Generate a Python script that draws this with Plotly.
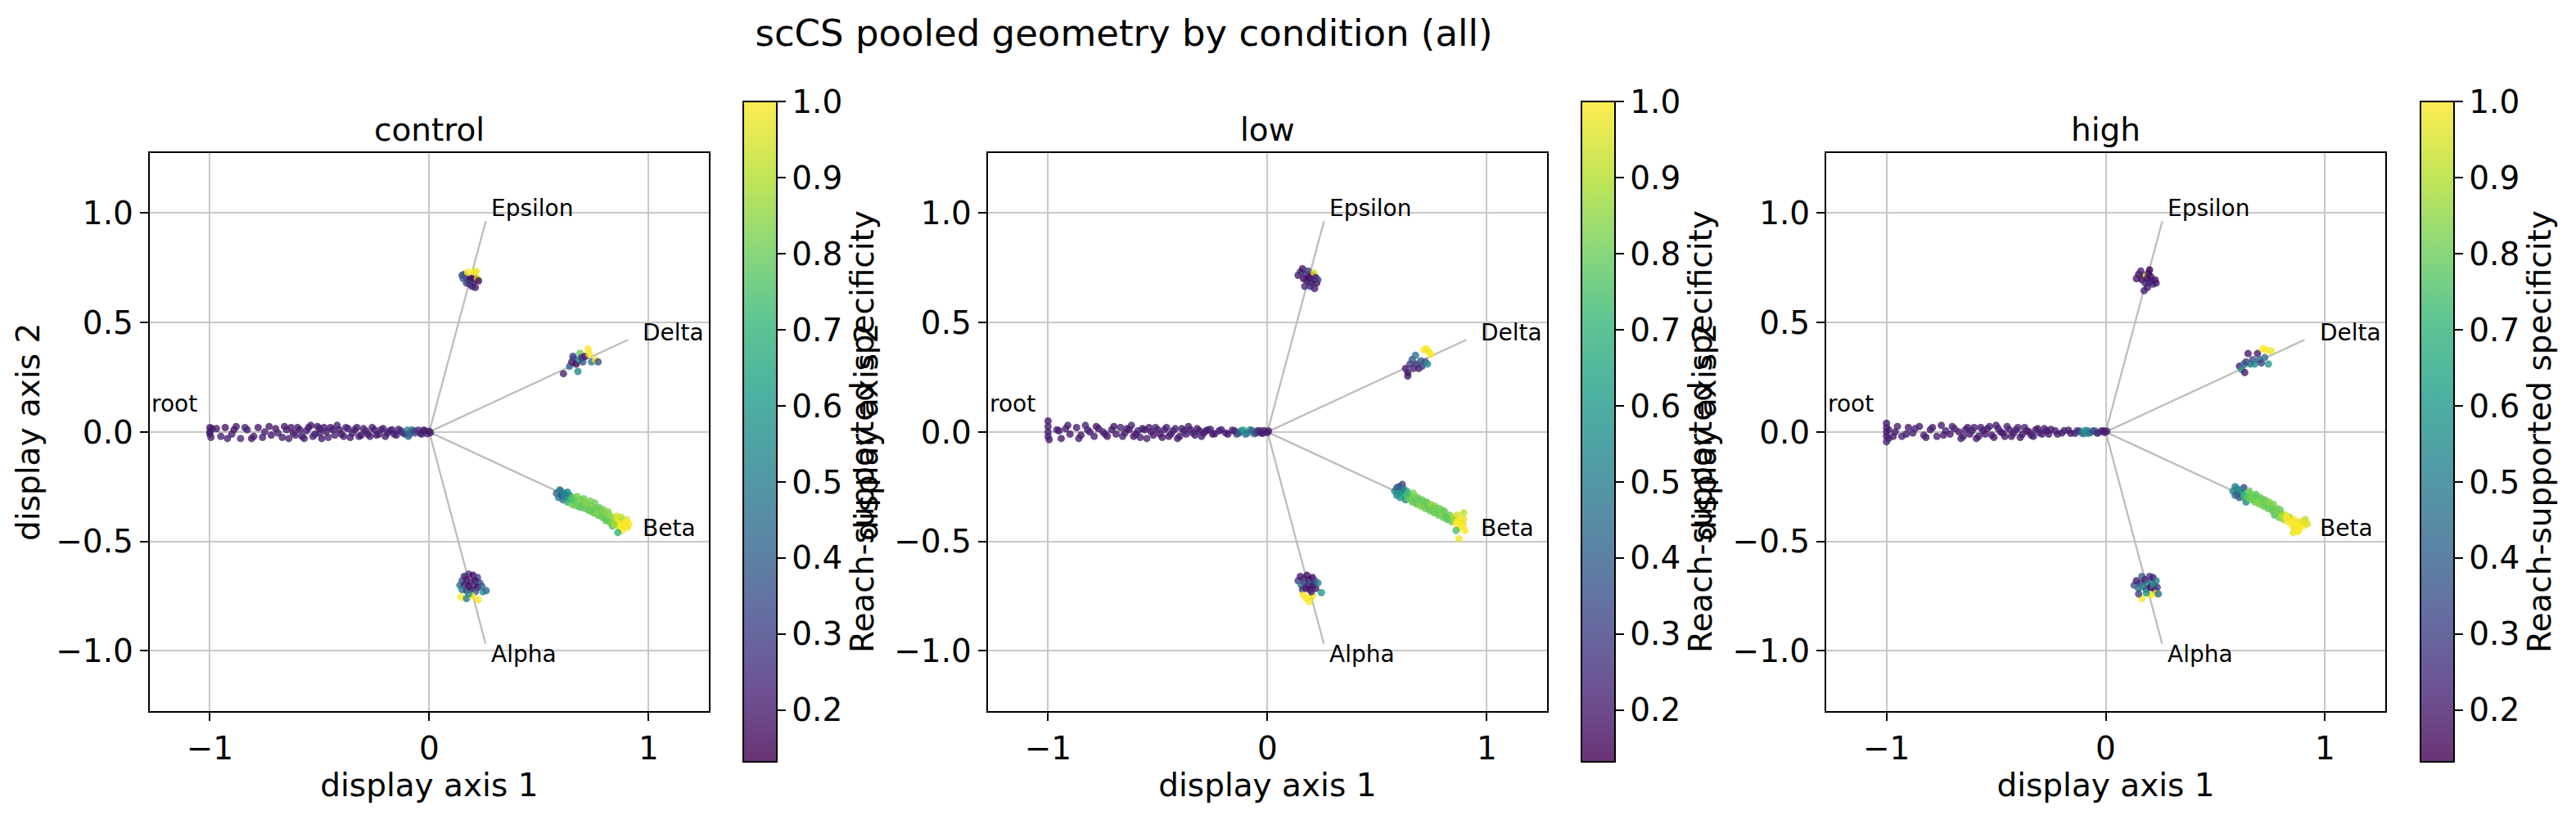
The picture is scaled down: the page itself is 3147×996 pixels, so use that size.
import plotly.graph_objects as go

# ---------------- data ----------------
PANELS = ["control", "low", "high"]

# (x, y, reach-supported specificity)
CONTROL_ROOT = [(-1.0,0.02,0.2),(-1.0,-0.01,0.21),(-1.0,0.0,0.19),(-0.995,-0.025,0.22),(-0.99,0.015,0.2),
    (-0.97,0.015,0.2),(-0.95,-0.02,0.22),(-0.93,0.02,0.19),(-0.9,-0.01,0.21),(-0.88,0.025,0.2),(-0.86,-0.03,0.23),
    (-0.83,0.01,0.2),(-0.8,-0.02,0.21),(-0.78,0.02,0.2),(-0.75,0.0,0.22),(-0.72,-0.015,0.19),(-0.7,0.015,0.2),
    (-0.67,-0.025,0.21),(-0.65,0.01,0.22),(-0.62,-0.005,0.2),(-0.6,0.02,0.21),(-0.58,-0.02,0.19),(-0.56,0.005,0.22),
    (-0.54,0.03,0.2),(-0.52,-0.01,0.21),(-0.5,0.015,0.23),(-0.49,-0.03,0.2),(-0.47,0.0,0.21),(-0.45,0.02,0.2),
    (-0.43,-0.015,0.22),(-0.41,0.01,0.19),(-0.39,-0.02,0.21),(-0.37,0.015,0.2),(-0.35,-0.005,0.22),(-0.33,0.02,0.2),
    (-0.31,-0.015,0.21),(-0.29,0.005,0.2),(-0.27,-0.02,0.22),(-0.25,0.01,0.2),(-0.23,-0.01,0.21),(-0.21,0.015,0.2),
    (-0.19,-0.005,0.22),(-0.17,0.01,0.2),(-0.15,-0.015,0.21),(-0.13,0.005,0.24),(-0.11,-0.01,0.3),(-0.095,-0.02,0.45),
    (-0.08,0.01,0.6),(-0.065,-0.005,0.35),(-0.05,0.008,0.22),(-0.035,-0.01,0.25),(-0.02,0.005,0.2),(-0.01,-0.008,0.22),
    (0.0,0.003,0.21),(0.005,-0.004,0.2)]
CONTROL_ROOT_DENSE = [(-0.92,-0.03,0.21),(-0.89,0.01,0.2),(-0.84,0.02,0.22),(-0.81,-0.03,0.2),(-0.76,-0.025,0.21),
    (-0.73,0.025,0.2),(-0.69,-0.005,0.22),(-0.66,0.025,0.2),(-0.64,-0.03,0.21),(-0.63,0.02,0.2),(-0.61,-0.015,0.22),
    (-0.59,0.01,0.2),(-0.57,-0.03,0.21),(-0.55,0.02,0.2),(-0.53,-0.02,0.22),(-0.51,0.025,0.2),(-0.5,-0.005,0.21),
    (-0.48,0.02,0.2),(-0.46,-0.025,0.22),(-0.44,0.01,0.2),(-0.42,0.03,0.21),(-0.4,-0.01,0.2),(-0.38,0.02,0.22),
    (-0.36,-0.025,0.2),(-0.34,0.01,0.21),(-0.32,-0.02,0.2),(-0.3,0.015,0.22),(-0.28,-0.01,0.2),(-0.26,0.02,0.21),
    (-0.24,-0.015,0.2),(-0.22,0.01,0.22),(-0.2,-0.02,0.2),(-0.18,0.005,0.21),(-0.16,-0.01,0.2),(-0.14,0.012,0.22),
    (-0.12,-0.005,0.25),(-0.1,0.008,0.5),(-0.09,-0.01,0.4),(-0.07,0.005,0.3),(-0.04,-0.006,0.22),(-0.025,0.008,0.2)]
CONTROL_EPSILON = [(0.15,0.715,0.3),(0.16,0.72,0.35),(0.17,0.705,0.2),(0.18,0.69,0.15),(0.19,0.70,0.18),(0.2,0.685,0.25),
    (0.185,0.675,0.3),(0.195,0.665,0.22),(0.21,0.66,0.2),(0.17,0.68,0.28),(0.205,0.705,0.16),(0.215,0.695,0.2),
    (0.175,0.729,1.0),(0.205,0.73,1.0),(0.214,0.733,0.98),(0.22,0.70,0.95),(0.225,0.69,0.17),(0.155,0.70,0.4)]
CONTROL_DELTA = [(0.612,0.266,0.22),(0.64,0.30,0.4),(0.65,0.32,0.2),(0.66,0.335,0.3),(0.67,0.31,0.15),(0.678,0.276,0.55),
    (0.685,0.33,0.6),(0.687,0.359,0.8),(0.695,0.34,0.25),(0.70,0.32,0.35),(0.71,0.345,0.2),(0.724,0.378,1.0),
    (0.73,0.355,1.0),(0.74,0.32,0.45),(0.759,0.328,1.0),(0.77,0.32,0.35),(0.655,0.345,0.3)]
CONTROL_BETA = [(0.58,-0.28,0.4),(0.59,-0.30,0.5),(0.60,-0.27,0.55),(0.605,-0.29,0.3),(0.61,-0.31,0.45),(0.62,-0.28,0.6),
    (0.625,-0.30,0.5),(0.63,-0.32,0.65),(0.64,-0.29,0.55),(0.645,-0.31,0.7),
    (0.65,-0.33,0.8),(0.66,-0.30,0.82),(0.67,-0.32,0.78),(0.68,-0.34,0.8),(0.69,-0.31,0.83),(0.70,-0.33,0.8),
    (0.71,-0.35,0.79),(0.72,-0.33,0.82),(0.73,-0.36,0.8),(0.74,-0.34,0.84),(0.75,-0.37,0.8),(0.76,-0.35,0.81),
    (0.77,-0.38,0.79),(0.78,-0.36,0.82),(0.79,-0.39,0.8),(0.80,-0.37,0.85),(0.81,-0.40,0.8),(0.82,-0.38,0.83),
    (0.83,-0.41,0.82),(0.835,-0.43,0.75),(0.84,-0.39,0.86),
    (0.85,-0.42,0.7),(0.86,-0.40,1.0),(0.865,-0.44,0.95),(0.87,-0.42,1.0),(0.88,-0.45,1.0),(0.885,-0.41,0.98),
    (0.89,-0.43,1.0),(0.90,-0.40,0.97),(0.91,-0.42,1.0),(0.86,-0.46,0.7),(0.875,-0.39,0.9)]
CONTROL_BETA_DENSE = [(0.595,-0.265,0.45),(0.61,-0.285,0.5),(0.63,-0.275,0.55),(0.65,-0.305,0.75),(0.665,-0.335,0.8),
    (0.675,-0.295,0.82),(0.69,-0.345,0.78),(0.705,-0.305,0.8),(0.715,-0.325,0.84),(0.725,-0.355,0.8),
    (0.735,-0.315,0.82),(0.745,-0.365,0.79),(0.755,-0.325,0.8),(0.765,-0.375,0.83),(0.775,-0.345,0.8),
    (0.785,-0.385,0.8),(0.795,-0.355,0.82),(0.805,-0.405,0.78),(0.815,-0.365,0.84),(0.825,-0.415,0.8),
    (0.845,-0.42,0.9),(0.855,-0.385,0.95),(0.875,-0.43,1.0),(0.895,-0.415,1.0),(0.905,-0.435,0.98)]
CONTROL_ALPHA = [(0.16,-0.66,0.2),(0.18,-0.65,0.25),(0.2,-0.655,0.15),(0.22,-0.665,0.3),(0.15,-0.68,0.35),(0.17,-0.675,0.18),
    (0.19,-0.685,0.22),(0.21,-0.68,0.16),(0.23,-0.69,0.3),(0.14,-0.70,0.45),(0.16,-0.70,0.2),(0.18,-0.705,0.15),
    (0.2,-0.70,0.28),(0.22,-0.71,0.14),(0.24,-0.705,0.4),(0.15,-0.72,0.5),(0.17,-0.725,0.3),(0.19,-0.72,0.2),
    (0.21,-0.73,0.35),(0.245,-0.73,0.55),(0.26,-0.725,0.45),(0.145,-0.755,1.0),(0.17,-0.761,0.5),(0.195,-0.749,1.0),
    (0.223,-0.767,1.0),(0.18,-0.74,0.55)]

LOW_ROOT = [(-1.0,0.05,0.2),(-1.0,0.025,0.21),(-1.0,0.0,0.2),(-1.0,-0.02,0.22),(-0.995,-0.035,0.2),
    (-0.96,0.01,0.21),(-0.94,-0.03,0.2),(-0.92,0.015,0.22),(-0.9,-0.01,0.2),(-0.87,0.02,0.21),(-0.85,-0.015,0.2),
    (-0.83,0.03,0.22),(-0.81,0.0,0.2),(-0.79,-0.02,0.21),(-0.77,0.015,0.2),(-0.75,0.0,0.22),(-0.73,-0.02,0.2),
    (-0.71,0.01,0.21),(-0.69,-0.01,0.2),(-0.67,0.02,0.22),(-0.65,-0.005,0.2),(-0.63,0.01,0.21),(-0.61,-0.02,0.2),
    (-0.59,0.005,0.22),(-0.57,0.015,0.2),(-0.55,-0.03,0.21),(-0.53,0.0,0.2),(-0.51,0.02,0.22),(-0.49,-0.01,0.2),
    (-0.47,0.01,0.21),(-0.45,-0.02,0.2),(-0.43,0.005,0.22),(-0.41,-0.03,0.2),(-0.39,0.015,0.21),(-0.37,-0.01,0.2),
    (-0.35,0.01,0.22),(-0.33,-0.015,0.2),(-0.31,0.005,0.21),(-0.29,-0.005,0.2),(-0.27,0.01,0.22),(-0.25,-0.01,0.2),
    (-0.22,0.005,0.21),(-0.19,-0.005,0.2),(-0.16,0.008,0.22),(-0.14,-0.01,0.3),(-0.12,0.005,0.55),(-0.1,-0.01,0.45),
    (-0.08,0.01,0.62),(-0.06,-0.008,0.4),(-0.045,0.005,0.25),(-0.03,-0.005,0.22),(-0.015,0.006,0.2),(0.0,-0.003,0.21),
    (0.005,0.004,0.2)]
LOW_ROOT_DENSE = [(-0.95,0.005,0.2),(-0.91,0.03,0.21),(-0.86,-0.03,0.2),(-0.82,0.01,0.22),(-0.78,0.025,0.2),
    (-0.74,-0.01,0.21),(-0.7,0.025,0.2),(-0.66,-0.02,0.22),(-0.64,0.015,0.2),(-0.62,0.03,0.21),(-0.6,-0.01,0.2),
    (-0.58,-0.025,0.22),(-0.56,0.01,0.2),(-0.54,0.02,0.21),(-0.52,-0.015,0.2),(-0.5,0.01,0.22),(-0.48,-0.025,0.2),
    (-0.46,0.02,0.21),(-0.44,-0.01,0.2),(-0.42,0.015,0.22),(-0.4,-0.02,0.2),(-0.38,0.005,0.21),(-0.36,0.025,0.2),
    (-0.34,-0.005,0.22),(-0.32,0.015,0.2),(-0.3,-0.02,0.21),(-0.28,0.005,0.2),(-0.26,0.012,0.22),(-0.24,-0.008,0.2),
    (-0.21,0.01,0.21),(-0.18,-0.01,0.2),(-0.15,0.005,0.22),(-0.13,-0.005,0.35),(-0.11,0.008,0.6),(-0.09,-0.005,0.5),
    (-0.07,0.006,0.4),(-0.05,-0.004,0.28),(-0.035,0.005,0.22),(-0.02,-0.006,0.2)]
LOW_EPSILON = [(0.14,0.715,0.2),(0.15,0.73,0.25),(0.16,0.745,0.18),(0.165,0.70,0.15),(0.175,0.72,0.22),(0.18,0.69,0.2),
    (0.185,0.735,0.3),(0.19,0.705,0.16),(0.2,0.68,0.2),(0.195,0.665,0.25),(0.205,0.715,0.18),(0.21,0.695,0.22),
    (0.213,0.726,0.95),(0.22,0.705,0.2),(0.225,0.68,0.17),(0.17,0.665,0.24),(0.215,0.655,0.2),(0.23,0.695,0.3)]
LOW_DELTA = [(0.63,0.29,0.2),(0.64,0.27,0.18),(0.65,0.31,0.3),(0.66,0.33,0.35),(0.665,0.29,0.22),(0.675,0.35,0.45),
    (0.68,0.31,0.25),(0.69,0.29,0.2),(0.70,0.325,0.4),(0.705,0.30,0.3),(0.715,0.375,1.0),(0.725,0.38,1.0),
    (0.735,0.365,0.98),(0.745,0.355,1.0),(0.72,0.32,0.35),(0.73,0.31,0.55),(0.64,0.255,0.2)]
LOW_BETA = [(0.58,-0.27,0.55),(0.59,-0.29,0.5),(0.6,-0.25,0.35),(0.605,-0.3,0.6),(0.61,-0.27,0.45),(0.615,-0.24,0.3),
    (0.62,-0.29,0.65),(0.63,-0.31,0.55),(0.635,-0.27,0.7),(0.64,-0.3,0.8),
    (0.65,-0.29,0.78),(0.66,-0.32,0.8),(0.67,-0.3,0.82),(0.68,-0.33,0.8),(0.69,-0.31,0.79),(0.70,-0.34,0.83),
    (0.71,-0.32,0.8),(0.72,-0.35,0.82),(0.73,-0.33,0.8),(0.74,-0.36,0.81),(0.75,-0.34,0.85),(0.76,-0.37,0.8),
    (0.77,-0.35,0.82),(0.78,-0.38,0.79),(0.79,-0.36,0.83),(0.80,-0.39,0.8),(0.81,-0.37,0.84),(0.82,-0.40,0.75),
    (0.83,-0.38,0.82),
    (0.84,-0.41,0.78),(0.85,-0.39,0.9),(0.86,-0.42,1.0),(0.865,-0.38,0.95),(0.875,-0.44,1.0),(0.88,-0.40,1.0),
    (0.89,-0.43,0.97),(0.895,-0.37,0.92),(0.9,-0.45,1.0),(0.873,-0.487,0.98),(0.86,-0.45,0.75)]
LOW_BETA_DENSE = [(0.59,-0.255,0.4),(0.6,-0.28,0.6),(0.62,-0.26,0.5),(0.64,-0.28,0.72),(0.655,-0.31,0.8),
    (0.665,-0.28,0.82),(0.675,-0.32,0.78),(0.685,-0.30,0.8),(0.695,-0.33,0.83),(0.705,-0.31,0.8),(0.715,-0.34,0.82),
    (0.725,-0.32,0.79),(0.735,-0.35,0.8),(0.745,-0.33,0.84),(0.755,-0.36,0.8),(0.765,-0.34,0.82),(0.775,-0.37,0.8),
    (0.785,-0.35,0.81),(0.795,-0.38,0.83),(0.805,-0.36,0.8),(0.815,-0.39,0.78),(0.845,-0.40,0.85),(0.865,-0.41,1.0),
    (0.885,-0.42,1.0),(0.895,-0.40,0.97)]
LOW_ALPHA = [(0.14,-0.68,0.3),(0.15,-0.66,0.2),(0.155,-0.70,0.45),(0.165,-0.67,0.22),(0.17,-0.69,0.35),(0.18,-0.655,0.18),
    (0.185,-0.70,0.25),(0.19,-0.675,0.2),(0.2,-0.69,0.4),(0.205,-0.665,0.15),(0.21,-0.70,0.17),(0.215,-0.68,0.3),
    (0.22,-0.715,0.2),(0.23,-0.69,0.5),(0.16,-0.72,0.3),(0.175,-0.715,0.2),(0.195,-0.72,0.15),(0.163,-0.745,1.0),
    (0.178,-0.76,1.0),(0.19,-0.775,1.0),(0.205,-0.75,0.98),(0.246,-0.734,0.6),(0.2,-0.73,0.22)]

HIGH_ROOT = [(-1.0,0.04,0.2),(-1.0,0.02,0.22),(-1.0,0.0,0.21),(-1.0,-0.02,0.2),(-1.0,-0.045,0.22),(-0.99,0.01,0.2),
    (-0.99,-0.03,0.21),(-0.96,0.0,0.2),(-0.93,-0.02,0.22),(-0.9,0.02,0.2),(-0.88,-0.005,0.21),(-0.85,0.025,0.2),
    (-0.83,-0.015,0.22),(-0.8,0.01,0.2),(-0.77,-0.02,0.21),(-0.75,0.03,0.2),(-0.73,0.005,0.22),(-0.71,-0.01,0.2),
    (-0.69,0.015,0.21),(-0.66,-0.03,0.2),(-0.64,0.01,0.22),(-0.62,-0.01,0.2),(-0.6,0.02,0.21),(-0.58,-0.02,0.2),
    (-0.56,0.005,0.22),(-0.54,0.015,0.2),(-0.52,-0.015,0.21),(-0.5,0.03,0.2),(-0.48,0.0,0.22),(-0.46,-0.02,0.2),
    (-0.44,0.01,0.21),(-0.42,-0.005,0.2),(-0.4,0.02,0.22),(-0.38,-0.01,0.2),(-0.36,0.005,0.21),(-0.34,-0.015,0.2),
    (-0.32,0.01,0.22),(-0.3,-0.005,0.2),(-0.28,0.015,0.21),(-0.26,-0.01,0.2),(-0.23,0.005,0.22),(-0.2,-0.005,0.2),
    (-0.17,0.008,0.21),(-0.14,-0.006,0.22),(-0.12,0.004,0.35),(-0.1,-0.008,0.55),(-0.085,0.006,0.45),
    (-0.07,-0.004,0.6),(-0.05,0.005,0.4),(-0.035,-0.005,0.3),(-0.02,0.004,0.22),(-0.005,-0.003,0.2),(0.005,0.003,0.21)]
HIGH_ROOT_DENSE = [(-0.97,-0.02,0.2),(-0.95,0.025,0.21),(-0.91,-0.01,0.2),(-0.87,0.015,0.22),(-0.82,-0.025,0.2),
    (-0.79,0.02,0.21),(-0.74,-0.015,0.2),(-0.7,0.025,0.22),(-0.67,0.0,0.2),(-0.65,-0.02,0.21),(-0.63,0.02,0.2),
    (-0.61,0.005,0.22),(-0.59,-0.03,0.2),(-0.57,0.02,0.21),(-0.55,-0.01,0.2),(-0.53,0.025,0.22),(-0.51,-0.025,0.2),
    (-0.49,0.015,0.21),(-0.47,-0.005,0.2),(-0.45,0.025,0.22),(-0.43,-0.02,0.2),(-0.41,0.01,0.21),(-0.39,-0.025,0.2),
    (-0.37,0.02,0.22),(-0.35,0.0,0.2),(-0.33,-0.02,0.21),(-0.31,0.015,0.2),(-0.29,-0.01,0.22),(-0.27,0.005,0.2),
    (-0.25,0.012,0.21),(-0.22,-0.01,0.2),(-0.19,0.006,0.22),(-0.16,-0.006,0.2),(-0.13,0.005,0.25),(-0.11,-0.005,0.45),
    (-0.095,0.006,0.6),(-0.08,-0.006,0.5),(-0.06,0.004,0.35),(-0.04,-0.005,0.25),(-0.01,0.005,0.2)]
HIGH_EPSILON = [(0.14,0.70,0.2),(0.15,0.72,0.18),(0.16,0.735,0.22),(0.165,0.695,0.15),(0.175,0.715,0.2),(0.18,0.68,0.25),
    (0.185,0.715,0.95),(0.19,0.70,0.17),(0.195,0.725,0.2),(0.2,0.685,0.22),(0.205,0.71,0.16),(0.21,0.69,0.2),
    (0.215,0.675,0.25),(0.225,0.695,0.18),(0.23,0.68,0.2),(0.175,0.645,0.22),(0.19,0.66,0.2),(0.2,0.74,0.15)]
HIGH_DELTA = [(0.61,0.30,0.2),(0.62,0.285,0.6),(0.63,0.31,0.45),(0.634,0.271,0.2),(0.64,0.32,0.3),(0.649,0.358,0.2),
    (0.66,0.31,0.5),(0.67,0.33,0.35),(0.68,0.31,0.55),(0.692,0.358,0.2),(0.70,0.33,0.4),(0.71,0.315,0.3),
    (0.717,0.38,1.0),(0.73,0.375,1.0),(0.742,0.31,0.6),(0.754,0.37,0.98),(0.725,0.34,0.45)]
HIGH_BETA = [(0.58,-0.27,0.55),(0.59,-0.29,0.45),(0.6,-0.26,0.6),(0.61,-0.30,0.35),(0.62,-0.28,0.5),(0.63,-0.255,0.3),
    (0.635,-0.30,0.65),(0.64,-0.32,0.55),
    (0.65,-0.28,0.78),(0.66,-0.31,0.8),(0.67,-0.29,0.82),(0.68,-0.32,0.8),(0.69,-0.30,0.79),(0.70,-0.33,0.83),
    (0.71,-0.31,0.8),(0.72,-0.34,0.82),(0.73,-0.32,0.8),(0.74,-0.35,0.81),(0.75,-0.33,0.85),(0.76,-0.36,0.8),
    (0.77,-0.38,0.75),(0.78,-0.35,0.82),(0.79,-0.39,0.8),(0.80,-0.37,0.83),
    (0.81,-0.40,0.85),(0.82,-0.38,0.95),(0.83,-0.41,1.0),(0.84,-0.39,0.9),(0.85,-0.43,1.0),(0.86,-0.40,1.0),
    (0.865,-0.44,0.98),(0.87,-0.42,1.0),(0.88,-0.45,1.0),(0.89,-0.41,0.97),(0.9,-0.43,1.0),(0.91,-0.40,0.9),
    (0.92,-0.42,0.95),(0.855,-0.46,0.97),(0.875,-0.455,1.0)]
HIGH_BETA_DENSE = [(0.59,-0.25,0.5),(0.6,-0.285,0.4),(0.615,-0.265,0.55),(0.63,-0.29,0.7),(0.645,-0.30,0.78),
    (0.655,-0.27,0.8),(0.665,-0.30,0.82),(0.675,-0.31,0.8),(0.685,-0.285,0.78),(0.695,-0.32,0.83),(0.705,-0.30,0.8),
    (0.715,-0.33,0.82),(0.725,-0.31,0.8),(0.735,-0.34,0.79),(0.745,-0.32,0.84),(0.755,-0.35,0.8),(0.765,-0.33,0.82),
    (0.775,-0.36,0.8),(0.785,-0.37,0.83),(0.795,-0.355,0.8),(0.805,-0.385,0.9),(0.825,-0.39,1.0),(0.845,-0.41,1.0),
    (0.885,-0.43,1.0),(0.905,-0.415,0.97)]
HIGH_ALPHA = [(0.13,-0.70,0.35),(0.14,-0.68,0.2),(0.15,-0.715,0.45),(0.16,-0.69,0.25),(0.165,-0.66,0.4),(0.17,-0.705,0.55),
    (0.18,-0.675,0.2),(0.185,-0.72,0.35),(0.19,-0.695,0.5),(0.2,-0.66,0.3),(0.205,-0.71,0.15),(0.21,-0.685,0.45),
    (0.215,-0.665,0.2),(0.22,-0.70,0.55),(0.225,-0.725,0.2),(0.23,-0.68,0.5),(0.235,-0.71,0.3),(0.165,-0.761,1.0),
    (0.203,-0.745,1.0),(0.228,-0.739,1.0),(0.185,-0.735,0.6),(0.24,-0.74,0.45),(0.15,-0.74,0.3)]

PANEL_POINTS = {
    "control": [CONTROL_ROOT, CONTROL_ROOT_DENSE, CONTROL_EPSILON, CONTROL_DELTA, CONTROL_BETA, CONTROL_BETA_DENSE,
                CONTROL_ALPHA],
    "low": [LOW_ROOT, LOW_ROOT_DENSE, LOW_EPSILON, LOW_DELTA, LOW_BETA, LOW_BETA_DENSE, LOW_ALPHA],
    "high": [HIGH_ROOT, HIGH_ROOT_DENSE, HIGH_EPSILON, HIGH_DELTA, HIGH_BETA, HIGH_BETA_DENSE, HIGH_ALPHA],
}

BRANCHES = ["Epsilon", "Delta", "Beta", "Alpha", "root"]
BRANCH_END_X = [0.258, 0.907, 0.907, 0.257, -1.0]
BRANCH_END_Y = [0.963, 0.421, -0.421, -0.967, 0.0]
LABEL_X = [0.276, 0.967, 0.967, 0.276, -1.275]
LABEL_Y = [1.022, 0.452, -0.441, -1.016, 0.13]

AXIS_TICKS_X = [-1, 0, 1]
AXIS_TICKS_Y = [-1.0, -0.5, 0.0, 0.5, 1.0]
CBAR_TICKS = [0.2, 0.3, 0.4, 0.5, 0.6, 0.7, 0.8, 0.9, 1.0]
C_MIN, C_MAX = 0.132, 1.0
AX_RANGE = [-1.275, 1.275]

# ---------------- style ----------------
W, H = 3147, 996
FONT = "DejaVu Sans"
VIRIDIS = ["#440154", "#482878", "#3e4989", "#31688e", "#26828e", "#1f9e89", "#35b779", "#6ece58", "#b5de2b", "#fde725"]
ALPHA = 0.8


def blend(hx, a=ALPHA):
    r, g, b = int(hx[1:3], 16), int(hx[3:5], 16), int(hx[5:7], 16)
    f = lambda v: round(v * a + 255 * (1 - a))
    return f"rgb({f(r)},{f(g)},{f(b)})"


viridis_scale = [[i / (len(VIRIDIS) - 1), c] for i, c in enumerate(VIRIDIS)]
faded_scale = [[i / (len(VIRIDIS) - 1), blend(c)] for i, c in enumerate(VIRIDIS)]

X_DOMAINS = [(182.7, 866.0), (1206.7, 1890.0), (2231.0, 2914.0)]
Y_TOP, Y_BOT = 186.7, 869.0
CBAR_LEFT = [908.0, 1932.0, 2957.0]
CBAR_TOP, CBAR_BOT = 124.0, 931.0

fig = go.Figure()
annotations = []
for i, name in enumerate(PANELS):
    ax = "" if i == 0 else str(i + 1)
    xa, ya = "x" + ax, "y" + ax
    # branch guide lines
    lx, ly = [], []
    for ex, ey in zip(BRANCH_END_X, BRANCH_END_Y):
        lx += [0, ex, None]
        ly += [0, ey, None]
    fig.add_trace(go.Scatter(x=lx, y=ly, mode="lines", line=dict(color="#bdbdbd", width=2.3),
                             xaxis=xa, yaxis=ya, showlegend=False, hoverinfo="skip"))
    pts = [p for grp in PANEL_POINTS[name] for p in grp]
    fig.add_trace(go.Scatter(
        x=[p[0] for p in pts], y=[p[1] for p in pts], mode="markers",
        marker=dict(color=[p[2] for p in pts], colorscale=viridis_scale, cmin=C_MIN, cmax=C_MAX,
                    size=9, opacity=ALPHA, line=dict(width=0), showscale=False),
        xaxis=xa, yaxis=ya, showlegend=False))
    # colorbar (drawn with alpha-faded colours like the reference)
    fig.add_trace(go.Scatter(
        x=[None], y=[None], mode="markers", xaxis=xa, yaxis=ya, showlegend=False, hoverinfo="skip",
        marker=dict(color=[C_MIN], colorscale=faded_scale, cmin=C_MIN, cmax=C_MAX, showscale=True,
                    colorbar=dict(
                        x=CBAR_LEFT[i] / W, xanchor="left", xpad=0, ypad=0,
                        y=1 - (CBAR_TOP + CBAR_BOT) / 2 / H, yanchor="middle",
                        len=(CBAR_BOT - CBAR_TOP) / H, lenmode="fraction",
                        thickness=41, thicknessmode="pixels",
                        outlinewidth=2, outlinecolor="black",
                        ticks="outside", ticklen=10, tickwidth=2, tickcolor="black",
                        tickvals=CBAR_TICKS, tickformat=".1f",
                        tickfont=dict(family=FONT, size=39, color="black"),
                        title=dict(text="Reach-supported specificity", side="right",
                                   font=dict(family=FONT, size=39, color="black")),
                    ))))
    for b, tx, ty in zip(BRANCHES, LABEL_X, LABEL_Y):
        annotations.append(dict(x=tx, y=ty, xref=xa, yref=ya, text=b, showarrow=False,
                                xanchor="left", yanchor="middle",
                                font=dict(family=FONT, size=28, color="black")))
    x0, x1 = X_DOMAINS[i]
    annotations.append(dict(x=(x0 + x1) / 2 / W, y=1 - Y_TOP / H, xref="paper", yref="paper",
                            text=name, showarrow=False, xanchor="center", yanchor="bottom", yshift=4,
                            font=dict(family=FONT, size=39, color="black")))
    axis_common = dict(range=AX_RANGE, showline=True, linecolor="black", linewidth=2, mirror=True,
                       ticks="outside", ticklen=10, tickwidth=2, tickcolor="black",
                       showgrid=True, gridcolor="#c8c8c8", gridwidth=2, zeroline=False,
                       tickfont=dict(family=FONT, size=39, color="black"))
    fig.update_layout(**{
        "xaxis" + ax: dict(domain=[x0 / W, x1 / W], anchor=ya, tickvals=AXIS_TICKS_X, tickformat="d",
                           title=dict(text="display axis 1", standoff=8,
                                      font=dict(family=FONT, size=39, color="black")),
                           **axis_common),
        "yaxis" + ax: dict(domain=[1 - Y_BOT / H, 1 - Y_TOP / H], anchor=xa, tickvals=AXIS_TICKS_Y,
                           tickformat=".1f",
                           title=dict(text="display axis 2", standoff=8,
                                      font=dict(family=FONT, size=39, color="black")),
                           **axis_common),
    })

fig.update_layout(
    width=W, height=H, margin=dict(l=0, r=0, t=0, b=0),
    paper_bgcolor="white", plot_bgcolor="white",
    title=dict(text="scCS pooled geometry by condition (all)", x=1373 / W, xanchor="center",
               y=1 - 40 / H, yanchor="middle", font=dict(family=FONT, size=45, color="black")),
    annotations=annotations,
)

fig.write_html("out.html")
